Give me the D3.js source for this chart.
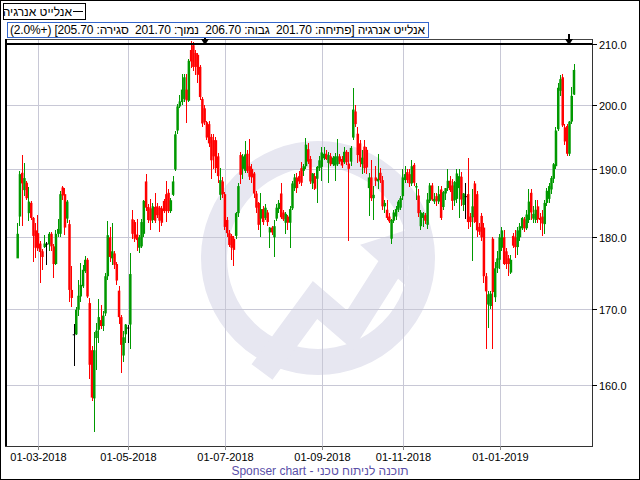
<!DOCTYPE html>
<html><head><meta charset="utf-8">
<script src="https://cdn.jsdelivr.net/npm/d3@7"></script>
<style>body{margin:0;background:#fff}svg{display:block}</style>
</head><body>
<svg id="c" width="640" height="480"></svg>
<script>
const open=[177.0,183.0,189.5,186.9,188.0,183.5,185.0,182.8,181.0,180.6,179.1,178.0,178.6,179.1,179.0,180.5,178.7,176.2,180.5,180.5,187.3,186.3,182.7,181.9,172.6,166.6,166.6,169.9,171.7,173.1,175.2,176.8,170.8,164.5,158.3,166.1,167.2,168.5,167.7,169.4,174.5,180.0,177.0,177.7,176.2,172.5,168.9,163.8,166.6,167.5,167.9,182.6,182.2,180.4,178.5,178.7,180.5,188.2,184.4,184.2,182.5,184.4,184.5,184.3,184.2,185.3,186.3,186.5,183.8,186.2,190.0,196.0,199.8,200.5,201.0,202.5,200.7,209.0,209.8,208.5,208.2,206.2,201.0,199.5,197.3,197.0,195.0,194.5,194.5,192.0,186.2,188.2,186.3,182.5,180.6,180.2,179.8,180.2,183.5,192.2,190.1,189.8,192.4,190.5,190.1,189.4,186.4,185.0,182.7,184.1,182.8,183.6,180.7,181.4,180.0,182.7,184.1,186.4,183.6,182.1,183.0,182.1,184.2,187.2,188.8,189.0,190.2,189.8,190.5,193.1,191.6,187.9,189.0,188.6,190.2,190.4,191.7,192.4,191.0,192.0,190.8,190.6,190.8,192.0,191.6,191.1,192.7,190.9,191.2,194.9,199.0,195.5,194.0,190.8,193.5,193.0,187.2,188.8,185.7,188.8,188.2,189.5,188.4,184.5,184.0,183.0,179.8,182.4,183.0,184.0,184.3,186.0,188.4,189.6,189.3,187.9,190.7,187.3,186.1,181.6,182.8,183.2,181.8,185.3,187.6,185.2,186.0,185.2,187.0,184.4,186.4,187.2,188.3,187.6,185.4,185.6,187.2,188.9,184.7,186.0,186.3,183.0,182.9,187.9,186.3,181.5,183.1,181.4,174.5,170.6,170.4,179.8,171.6,175.6,176.8,178.5,180.0,178.0,177.0,175.0,180.2,180.0,178.6,180.0,181.3,182.6,181.3,182.5,186.5,182.7,182.5,184.5,182.8,183.0,181.9,185.0,185.6,187.0,188.6,190.5,196.2,202.3,204.5,196.5,196.7,192.4,197.4,201.7];
const high=[182.1,189.8,192.2,191.0,188.3,187.3,185.3,183.0,182.0,183.2,179.5,178.3,180.3,179.3,180.8,180.8,179.0,181.0,182.6,186.8,187.5,187.2,185.4,182.5,175.9,168.0,170.3,174.0,176.4,176.0,177.3,177.0,171.5,165.0,166.9,168.1,171.3,170.5,169.7,175.0,182.3,181.5,182.1,178.0,176.5,173.2,169.2,167.0,168.0,167.8,177.7,184.0,182.5,182.6,180.3,182.6,185.5,189.3,184.8,185.6,185.0,186.4,185.0,184.6,184.5,185.6,188.2,187.0,185.8,189.0,196.0,200.2,201.6,205.0,205.0,205.0,207.5,210.5,210.3,209.0,208.5,206.5,201.3,200.0,197.5,197.5,195.5,195.5,195.0,192.5,190.2,188.8,186.6,183.0,181.0,180.5,180.2,183.7,188.0,192.6,192.3,194.4,193.0,194.6,190.8,189.6,186.8,185.2,186.4,184.5,184.8,184.0,181.5,181.6,182.5,184.8,185.5,188.0,184.0,183.6,183.3,184.5,188.2,189.3,189.5,189.8,191.2,190.8,194.8,194.0,192.0,189.5,189.5,190.5,192.0,193.4,193.5,193.0,192.6,192.5,192.0,192.5,194.7,192.3,192.0,193.5,193.0,192.6,193.6,202.7,200.0,196.5,194.5,193.0,194.5,193.5,189.5,191.5,187.5,190.5,192.3,190.2,189.0,185.5,185.5,183.5,182.7,184.0,184.5,185.5,186.0,190.0,190.5,190.0,190.0,191.5,191.0,188.0,187.0,183.9,183.7,183.5,186.5,188.0,188.0,186.4,186.5,187.5,187.5,186.8,187.2,190.0,189.0,188.5,188.3,190.1,190.0,189.6,186.4,188.0,191.8,183.5,187.0,188.2,186.8,182.0,183.5,182.0,175.0,172.4,172.5,180.0,176.5,178.0,180.5,181.5,181.0,178.5,177.5,177.5,180.6,181.0,181.5,182.0,183.0,183.0,184.0,187.0,187.0,184.5,185.5,185.5,183.5,184.0,185.5,187.2,188.0,189.0,191.0,196.5,203.5,204.9,205.0,197.0,197.0,197.5,203.0,206.7];
const low=[177.0,181.6,181.6,186.0,185.5,182.4,182.5,176.5,177.0,178.0,173.5,175.4,178.4,176.0,178.0,178.0,174.2,176.0,180.0,180.0,185.5,180.3,182.0,171.0,170.3,162.5,166.5,169.0,171.0,172.8,175.0,171.5,160.8,158.0,154.1,161.9,165.4,167.3,167.0,169.0,174.0,176.5,176.0,175.5,173.3,168.0,161.6,163.0,165.5,165.5,164.6,179.8,179.3,178.0,177.8,178.5,180.0,183.8,182.0,181.0,182.0,182.0,182.8,180.8,181.6,183.5,182.2,183.5,183.5,186.0,189.8,195.5,199.5,200.0,200.5,197.2,200.5,206.0,205.5,204.9,203.5,200.8,196.5,196.8,194.5,193.5,188.6,190.0,189.5,188.0,185.5,185.8,181.0,180.0,178.6,176.8,175.9,179.8,183.0,187.8,188.5,189.5,189.5,188.4,188.0,185.8,183.5,181.0,180.0,181.8,182.5,181.7,178.5,180.3,177.2,182.3,183.5,182.7,182.4,180.5,181.0,178.5,184.0,186.8,186.5,187.8,187.5,189.0,190.0,190.8,187.8,187.0,186.9,185.0,189.8,188.3,191.5,191.5,188.0,190.5,190.5,188.3,190.5,190.9,190.3,190.8,190.7,179.4,190.5,194.5,196.5,191.0,190.4,189.3,189.5,189.3,183.1,185.3,182.5,187.5,187.0,188.0,184.0,183.5,182.5,182.0,179.0,182.0,182.5,183.6,184.0,185.5,188.0,188.0,187.3,187.5,187.5,185.5,183.0,181.0,181.5,181.9,181.2,185.0,185.3,184.8,184.5,184.8,182.5,184.0,185.5,186.8,186.6,184.0,184.5,185.0,182.8,184.5,183.8,182.7,181.2,181.5,176.6,182.0,180.0,180.3,179.5,173.6,164.7,167.4,170.0,164.7,171.0,175.0,175.5,178.0,176.0,175.5,174.5,174.8,178.5,177.0,177.5,179.5,181.0,180.8,181.0,182.0,182.5,182.0,182.0,182.0,181.0,180.2,180.5,184.5,185.0,186.3,188.0,190.0,196.0,201.5,196.5,193.8,192.0,192.0,197.0,201.7];
const close=[180.5,189.3,187.9,188.7,185.7,185.2,182.8,180.2,178.5,178.4,177.9,177.2,179.1,179.1,180.5,178.7,176.2,180.5,181.2,186.3,186.1,181.4,185.2,172.6,171.5,166.6,169.9,171.8,173.3,175.4,176.8,171.7,162.6,158.4,164.5,167.1,168.9,167.7,169.1,174.5,180.3,177.2,178.0,176.1,173.9,168.9,165.2,166.2,167.9,167.5,174.8,180.5,179.8,179.6,180.0,182.2,185.3,184.3,182.5,182.4,184.5,182.4,183.2,182.4,182.1,183.8,183.8,183.8,185.4,188.2,195.4,199.8,200.6,202.5,204.5,200.8,207.2,207.1,206.2,206.2,204.9,201.3,197.1,197.3,194.9,194.0,191.4,192.0,190.2,189.0,188.4,186.3,181.5,180.6,178.9,178.5,178.2,183.5,187.5,189.2,192.0,192.3,189.8,188.9,188.8,186.4,184.3,181.8,184.1,182.2,184.3,182.2,181.4,180.7,181.6,184.3,185.0,182.9,182.6,183.4,182.1,184.1,187.9,188.8,187.2,188.2,188.0,190.5,193.8,191.2,188.2,189.4,187.1,190.4,191.4,192.6,192.4,191.6,192.2,190.8,191.8,192.0,192.0,191.2,190.6,192.7,191.1,190.1,193.3,199.3,197.0,192.2,191.2,191.8,190.2,190.3,188.8,185.7,186.2,188.3,188.6,188.4,184.5,185.0,182.8,182.3,182.5,183.6,184.1,185.2,185.7,188.8,189.3,188.4,187.9,190.5,188.0,187.5,183.5,183.6,183.5,182.4,185.5,187.6,185.5,185.6,185.3,186.3,182.8,186.6,187.2,188.3,186.9,185.3,188.1,189.4,189.0,185.5,186.4,186.0,182.2,182.2,184.5,182.2,181.0,180.8,180.0,174.5,172.4,172.0,172.1,172.3,175.6,177.0,180.0,181.0,176.2,176.2,176.2,176.8,178.8,178.6,181.0,181.6,182.8,181.3,183.3,185.2,183.6,183.4,184.0,182.6,182.5,182.0,185.0,186.8,187.5,188.7,190.8,196.0,202.8,204.2,196.8,194.3,192.4,197.4,201.5,205.7];
const dateTickIndex=[9,49,92,135,171,214];
const dateTickLabels=["01-03-2018","01-05-2018","01-07-2018","01-09-2018","01-11-2018","01-01-2019"];
const priceTicks=[160,170,180,190,200,210];
const signalIndex=[83,245];
const seriesName="אנלייט אנרגיה";
const infoText="אנלייט אנרגיה [פתיחה: 201.70  גבוה: 206.70  נמוך: 201.70  סגירה: 205.70] (+2.0%)";
const footerText="תוכנה לניתוח טכני - Sponser chart";

const svg=d3.select("#c");
const W=640,H=480;
const L=5,R=592,T=39,B=446;
const n=open.length;
const x=d3.scaleLinear().domain([0,n-1]).range([17.7,574]);
const y=d3.scaleLog().domain([152.4,210]).range([B,44]);
const font="'Liberation Sans', Arial, sans-serif";

svg.append("rect").attr("x",0.5).attr("y",0.5).attr("width",W-1).attr("height",H-1).attr("fill","#fff").attr("stroke","#000");

// watermark
const wmc="#e7e7f1";
const wm=svg.append("g").attr("fill","none").attr("stroke",wmc);
wm.append("circle").attr("cx",318).attr("cy",258).attr("r",104).attr("stroke-width",26);
wm.append("path").attr("d","M262,372 L315,300 L350,330 L392,264").attr("stroke-width",26).attr("stroke-linejoin","miter");
wm.append("path").attr("d","M366,246 L410,232 L404,280 Z").attr("fill",wmc).attr("stroke-width",6);

// grid
const grid=svg.append("g").attr("stroke","#c8c8d6").attr("stroke-width",1).attr("shape-rendering","crispEdges");
priceTicks.filter(v=>v<210).forEach(v=>{
  grid.append("line").attr("x1",L).attr("x2",R).attr("y1",Math.round(y(v))+0.5).attr("y2",Math.round(y(v))+0.5);
});
dateTickIndex.forEach(i=>{
  const xx=Math.round(x(i))+0.5;
  grid.append("line").attr("x1",xx).attr("x2",xx).attr("y1",T).attr("y2",B);
});

// candles
const cg=svg.append("g");
d3.range(n).forEach(i=>{
  const o=open[i],c=close[i],h=high[i],l=low[i];
  const col=c>o?"#009900":(c<o?"#ff0000":"#000000");
  const cx=x(i);
  const wx=Math.floor(cx)+0.5;
  cg.append("line").attr("x1",wx).attr("x2",wx).attr("y1",y(h)).attr("y2",y(l)).attr("stroke",col).attr("stroke-width",1).attr("shape-rendering","crispEdges");
  const yt=y(Math.max(o,c)),yb=y(Math.min(o,c));
  cg.append("rect").attr("x",cx-1.25).attr("y",yt).attr("width",2.5).attr("height",Math.max(1,yb-yt)).attr("fill",col);
});

// 210 line
svg.append("line").attr("x1",L).attr("x2",R).attr("y1",y(210)).attr("y2",y(210)).attr("stroke","#000").attr("stroke-width",2);

// frame
const fr=svg.append("g").attr("shape-rendering","crispEdges");
fr.append("line").attr("x1",L).attr("x2",R).attr("y1",T+0.5).attr("y2",T+0.5).attr("stroke","#444");
fr.append("line").attr("x1",L).attr("x2",R+1).attr("y1",B+0.5).attr("y2",B+0.5).attr("stroke","#333");
fr.append("line").attr("x1",L+0.5).attr("x2",L+0.5).attr("y1",T).attr("y2",B).attr("stroke","#000").attr("stroke-width",2);
fr.append("line").attr("x1",R+0.5).attr("x2",R+0.5).attr("y1",T).attr("y2",B+1).attr("stroke","#333");

// y axis labels
const ya=svg.append("g");
priceTicks.forEach(v=>{
  const yy=Math.round(y(v))+0.5;
  ya.append("line").attr("x1",R).attr("x2",R+5).attr("y1",yy).attr("y2",yy).attr("stroke","#000").attr("shape-rendering","crispEdges");
  ya.append("text").attr("x",R+7).attr("y",yy+4).attr("font-family",font).attr("font-size",11).text(v.toFixed(1));
});

// x axis labels
const xa=svg.append("g");
dateTickIndex.forEach((i,k)=>{
  const xx=Math.round(x(i))+0.5;
  xa.append("line").attr("x1",xx).attr("x2",xx).attr("y1",B).attr("y2",B+4).attr("stroke","#888").attr("shape-rendering","crispEdges");
  xa.append("text").attr("x",xx).attr("y",B+15).attr("text-anchor","middle").attr("font-family",font).attr("font-size",11).text(dateTickLabels[k]);
});

// signal arrows
signalIndex.forEach(i=>{
  const cx=Math.round(x(i));
  svg.append("path").attr("d",`M${cx-1},34 L${cx+1},34 L${cx+1},39 L${cx+4},39 L${cx},45 L${cx-4},39 L${cx-1},39 Z`).attr("fill","#000");
});

// legend box
svg.append("rect").attr("x",3.5).attr("y",3.5).attr("width",82).attr("height",16).attr("fill","#fff").attr("stroke","#000");
svg.append("text").attr("x",72).attr("y",16).attr("text-anchor","end").attr("font-family",font).attr("font-size",12).text(seriesName);
svg.append("line").attr("x1",73).attr("x2",83).attr("y1",11.5).attr("y2",11.5).attr("stroke","#000");

// info box
svg.append("rect").attr("x",7.5).attr("y",22.5).attr("width",421).attr("height",15).attr("fill","#fff").attr("stroke","#3366cc");
svg.append("text").attr("x",425).attr("y",34).attr("direction","rtl").attr("text-anchor","start")
  .attr("font-family",font).attr("font-size",12).style("white-space","pre")
  .attr("textLength",415).attr("lengthAdjust","spacing").text(infoText);

// footer
svg.append("text").attr("x",320).attr("y",475).attr("text-anchor","middle").attr("direction","rtl").attr("font-family",font).attr("font-size",12).attr("fill","#5a4fa8").text(footerText);
</script>
</body></html>
